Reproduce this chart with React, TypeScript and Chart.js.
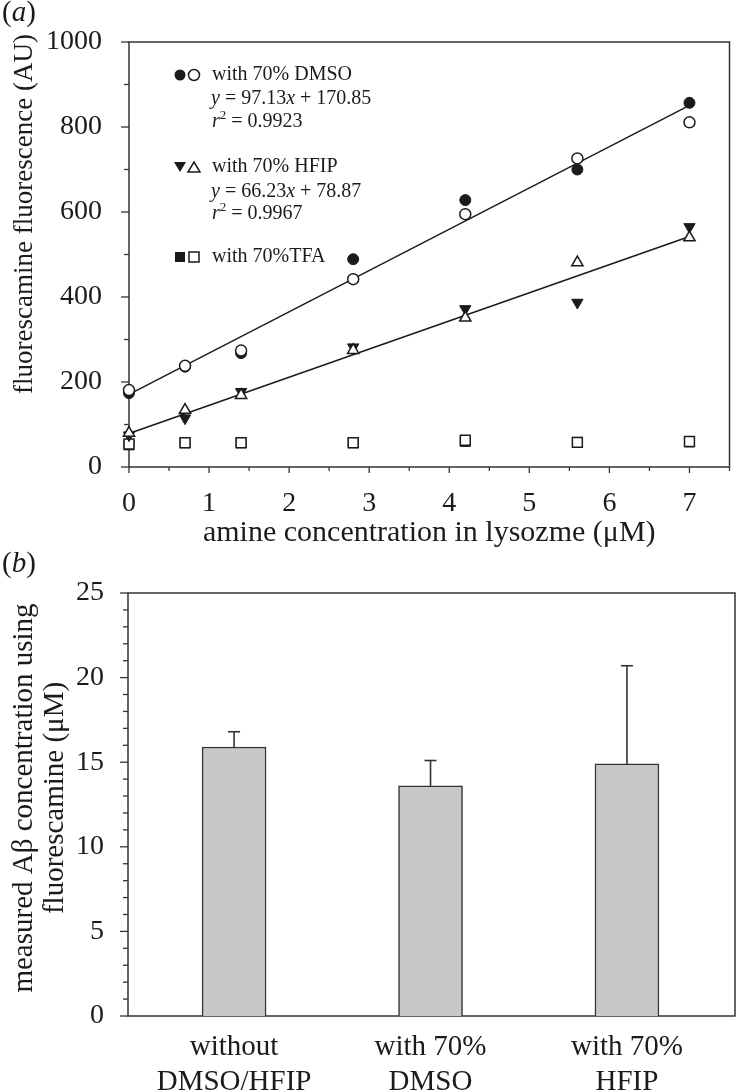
import React, { useEffect, useRef } from 'react';
import { Chart, registerables } from 'chart.js';

Chart.register(...registerables);

// ---------- Panel (a) data ----------
const concentrations = [0, 0.7, 1.4, 2.8, 4.2, 5.6, 7];
const dmsoFilled = [174, 236, 268, 489, 628, 700, 857];
const dmsoOpen = [181, 238, 274, 442, 595, 726, 811];
const hfipFilled = [75, 115, 177, 282, 372, 387, 565];
const hfipOpen = [80, 134, 169, 275, 351, 481, 540];
const tfaFilled = [52, 57, 57, 57, 60, 58, 59];
const tfaOpen = [54, 57, 57, 57, 63, 58, 60];
const fitRangeX = [0, 7];
const dmsoFitY = [170.85, 850.76];
const hfipFitY = [78.87, 542.48];

const aXTickValues = [0, 1, 2, 3, 4, 5, 6, 7];
const aXMinorTicks = [0.5, 1.5, 2.5, 3.5, 4.5, 5.5, 6.5, 7.5];
const aYTickValues = [0, 200, 400, 600, 800, 1000];
const aYMinorTicks = [100, 300, 500, 700, 900];

const legendNames = ['with 70% DMSO', 'with 70% HFIP', 'with 70%TFA'];
const legendEquations = ['y = 97.13x + 170.85', 'y = 66.23x + 78.87'];
const legendR2 = ['0.9923', '0.9967'];

const aXTitle = 'amine concentration in lysozme (\u03bcM)';
const aYTitle = 'fluorescamine fluorescence (AU)';

// ---------- Panel (b) data ----------
const barLabels = [['without', 'DMSO/HFIP'], ['with 70%', 'DMSO'], ['with 70%', 'HFIP']];
const barPositions = [1, 2, 3];
const barValues = [15.9, 13.6, 14.9];
const barErrorTop = [16.8, 15.1, 20.7];
const bYTickValues = [0, 5, 10, 15, 20, 25];
const bYMinorTicks = [1, 2, 3, 4, 6, 7, 8, 9, 11, 12, 13, 14, 16, 17, 18, 19, 21, 22, 23, 24];
const bYTitle = ['measured A\u03b2 concentration using', 'fluorescamine (\u03bcM)'];

const FONT = '"Liberation Serif", "Times New Roman", serif';
const INK = '#1b1b1b';
const AXIS = '#333333';

function strokeLine(ctx: CanvasRenderingContext2D, x1: number, y1: number, x2: number, y2: number) {
  ctx.beginPath();
  ctx.moveTo(x1, y1);
  ctx.lineTo(x2, y2);
  ctx.stroke();
}

type Seg = { text: string; italic?: boolean; size?: number; dy?: number };

function drawRich(ctx: CanvasRenderingContext2D, segs: Seg[], x: number, y: number, baseSize: number) {
  let cx = x;
  ctx.textAlign = 'left';
  ctx.textBaseline = 'alphabetic';
  for (const s of segs) {
    ctx.font = `${s.italic ? 'italic ' : ''}${s.size || baseSize}px ${FONT}`;
    ctx.fillText(s.text, cx, y + (s.dy || 0));
    cx += ctx.measureText(s.text).width;
  }
}

function eqSegments(s: string): Seg[] {
  return s
    .split(/([xy])/)
    .filter((t) => t.length > 0)
    .map((t) => ({ text: t, italic: t === 'x' || t === 'y' }));
}

function axesPlugin(
  id: string,
  xMajor: number[],
  xMinor: number[],
  yMajor: number[],
  yMinor: number[]
) {
  return {
    id,
    beforeDatasetsDraw(chart: any) {
      const { ctx, chartArea: ca } = chart;
      const xs = chart.scales.x;
      const ys = chart.scales.y;
      ctx.save();
      ctx.strokeStyle = AXIS;
      ctx.lineWidth = 1.5;
      ctx.strokeRect(ca.left, ca.top, ca.right - ca.left, ca.bottom - ca.top);
      ctx.lineWidth = 1.3;
      yMajor.forEach((v) => {
        const y = ys.getPixelForValue(v);
        strokeLine(ctx, ca.left - 8, y, ca.left, y);
      });
      yMinor.forEach((v) => {
        const y = ys.getPixelForValue(v);
        strokeLine(ctx, ca.left - 5, y, ca.left, y);
      });
      xMajor.forEach((v) => {
        const x = xs.getPixelForValue(v);
        strokeLine(ctx, x, ca.bottom, x, ca.bottom + 6);
      });
      xMinor.forEach((v) => {
        const x = xs.getPixelForValue(v);
        strokeLine(ctx, x, ca.bottom, x, ca.bottom + 4);
      });
      ctx.restore();
    },
  };
}

function legendMarker(ctx: CanvasRenderingContext2D, kind: string, x: number, y: number, filled: boolean) {
  ctx.beginPath();
  if (kind === 'circle') ctx.arc(x, y, 5.5, 0, Math.PI * 2);
  else if (kind === 'down') {
    ctx.moveTo(x - 6, y - 5);
    ctx.lineTo(x + 6, y - 5);
    ctx.lineTo(x, y + 5);
    ctx.closePath();
  } else if (kind === 'up') {
    ctx.moveTo(x - 6, y + 5);
    ctx.lineTo(x + 6, y + 5);
    ctx.lineTo(x, y - 5);
    ctx.closePath();
  } else ctx.rect(x - 5, y - 5, 10, 10);
  if (filled) {
    ctx.fillStyle = INK;
    ctx.fill();
  } else {
    ctx.fillStyle = '#fff';
    ctx.fill();
    ctx.lineWidth = 1.5;
    ctx.strokeStyle = INK;
    ctx.stroke();
  }
}

const panelAText = {
  id: 'panelAText',
  afterDraw(chart: any) {
    const { ctx, chartArea: ca } = chart;
    ctx.save();
    ctx.fillStyle = INK;
    // panel label
    drawRich(ctx, [{ text: '(' }, { text: 'a', italic: true }, { text: ')' }], 2, 21, 29);
    // x title
    ctx.font = `30px ${FONT}`;
    ctx.textAlign = 'center';
    ctx.textBaseline = 'middle';
    ctx.fillText(aXTitle, (ca.left + ca.right) / 2, 533);
    // y title
    ctx.font = `27px ${FONT}`;
    ctx.save();
    ctx.translate(25, 214);
    ctx.rotate(-Math.PI / 2);
    ctx.fillText(aYTitle, 0, 0);
    ctx.restore();
    // legend
    const kinds: [string, string][] = [
      ['circle', 'circle'],
      ['down', 'up'],
      ['square', 'square'],
    ];
    const nameBase = [80, 172, 262];
    const markY = [75, 167, 257];
    kinds.forEach((k, i) => {
      legendMarker(ctx, k[0], 180, markY[i], true);
      legendMarker(ctx, k[1], 194, markY[i], false);
      ctx.fillStyle = INK;
      drawRich(ctx, [{ text: legendNames[i] }], 212, nameBase[i], 20);
    });
    const eqBase = [104, 197];
    const r2Base = [127, 219];
    legendEquations.forEach((eq, i) => {
      ctx.fillStyle = INK;
      drawRich(ctx, eqSegments(eq), 211, eqBase[i], 20);
      drawRich(
        ctx,
        [{ text: 'r', italic: true }, { text: '2', size: 13, dy: -8 }, { text: ' = ' + legendR2[i] }],
        212,
        r2Base[i],
        20
      );
    });
    ctx.restore();
  },
};

const panelBText = {
  id: 'panelBText',
  afterDraw(chart: any) {
    const { ctx } = chart;
    ctx.save();
    ctx.fillStyle = INK;
    drawRich(ctx, [{ text: '(' }, { text: 'b', italic: true }, { text: ')' }], 2, 23, 29);
    ctx.font = `29px ${FONT}`;
    ctx.textAlign = 'center';
    ctx.textBaseline = 'middle';
    const xs = [24, 55];
    bYTitle.forEach((t, i) => {
      ctx.save();
      ctx.translate(xs[i], 249);
      ctx.rotate(-Math.PI / 2);
      ctx.fillText(t, 0, 0);
      ctx.restore();
    });
    ctx.restore();
  },
};

const errorBars = {
  id: 'errorBars',
  afterDatasetsDraw(chart: any) {
    const { ctx } = chart;
    const xs = chart.scales.x;
    const ys = chart.scales.y;
    ctx.save();
    ctx.strokeStyle = AXIS;
    ctx.lineWidth = 1.6;
    barPositions.forEach((p, i) => {
      const x = xs.getPixelForValue(p);
      const y0 = ys.getPixelForValue(barValues[i]);
      const y1 = ys.getPixelForValue(barErrorTop[i]);
      strokeLine(ctx, x, y0, x, y1);
      strokeLine(ctx, x - 6, y1, x + 6, y1);
    });
    ctx.restore();
  },
};

const tickFont = { family: FONT, size: 28 };

export default function App() {
  const refA = useRef<HTMLCanvasElement>(null);
  const refB = useRef<HTMLCanvasElement>(null);

  useEffect(() => {
    const pts = (ys: number[]) => concentrations.map((x, i) => ({ x, y: ys[i] }));
    const fit = (ys: number[]) => fitRangeX.map((x, i) => ({ x, y: ys[i] }));

    const chartA = new Chart(refA.current as HTMLCanvasElement, {
      type: 'scatter',
      data: {
        datasets: [
          { label: 'DMSO fit', data: fit(dmsoFitY), showLine: true, pointRadius: 0, borderColor: INK, borderWidth: 1.5, order: 5 },
          { label: 'HFIP fit', data: fit(hfipFitY), showLine: true, pointRadius: 0, borderColor: INK, borderWidth: 1.5, order: 5 },
          { label: 'TFA filled', data: pts(tfaFilled), pointStyle: 'rect', pointRadius: 7, backgroundColor: INK, borderColor: INK, borderWidth: 1, order: 4 },
          { label: 'TFA open', data: pts(tfaOpen), pointStyle: 'rect', pointRadius: 7, backgroundColor: '#fff', borderColor: INK, borderWidth: 1.5, order: 3 },
          { label: 'HFIP filled', data: pts(hfipFilled), pointStyle: 'triangle', pointRotation: 180, pointRadius: 6.5, backgroundColor: INK, borderColor: INK, borderWidth: 1, order: 2 },
          { label: 'HFIP open', data: pts(hfipOpen), pointStyle: 'triangle', pointRadius: 6.5, backgroundColor: '#fff', borderColor: INK, borderWidth: 1.5, order: 1 },
          { label: 'DMSO filled', data: pts(dmsoFilled), pointStyle: 'circle', pointRadius: 5.5, backgroundColor: INK, borderColor: INK, borderWidth: 1, order: 2 },
          { label: 'DMSO open', data: pts(dmsoOpen), pointStyle: 'circle', pointRadius: 5.5, backgroundColor: '#fff', borderColor: INK, borderWidth: 1.5, order: 0 },
        ].map((d) => ({ ...d, clip: false as any })),
      },
      options: {
        animation: false,
        responsive: false,
        devicePixelRatio: 1,
        events: [],
        layout: { padding: { top: 42, right: 5, left: 0, bottom: 0 } },
        plugins: { legend: { display: false }, tooltip: { enabled: false } },
        scales: {
          x: {
            type: 'linear',
            min: 0,
            max: 7.5,
            grid: { display: false },
            border: { display: false },
            afterBuildTicks: (s: any) => {
              s.ticks = aXTickValues.map((v) => ({ value: v }));
            },
            afterFit: (s: any) => {
              s.height = 103;
            },
            ticks: {
              font: tickFont,
              color: INK,
              padding: 12,
              maxRotation: 0,
              autoSkip: false,
              callback: (v: any) => String(v),
            },
          },
          y: {
            type: 'linear',
            min: 0,
            max: 1000,
            grid: { display: false },
            border: { display: false },
            afterBuildTicks: (s: any) => {
              s.ticks = aYTickValues.map((v) => ({ value: v }));
            },
            afterFit: (s: any) => {
              s.width = 129;
            },
            ticks: { font: tickFont, color: INK, padding: 19, callback: (v: any) => String(v) },
          },
        },
      } as any,
      plugins: [axesPlugin('axesA', aXTickValues, aXMinorTicks, aYTickValues, aYMinorTicks), panelAText],
    });

    const chartB = new Chart(refB.current as HTMLCanvasElement, {
      type: 'bar',
      data: {
        datasets: [
          {
            label: 'measured A\u03b2',
            data: barPositions.map((x, i) => ({ x, y: barValues[i] })),
            backgroundColor: '#c8c8c8',
            borderColor: AXIS,
            borderWidth: 1.5,
            barThickness: 64,
          },
        ],
      },
      options: {
        animation: false,
        responsive: false,
        devicePixelRatio: 1,
        events: [],
        layout: { padding: { top: 44, right: 3, left: 0, bottom: 0 } },
        plugins: { legend: { display: false }, tooltip: { enabled: false } },
        scales: {
          x: {
            type: 'linear',
            min: 0.46,
            max: 3.55,
            offset: false,
            grid: { display: false, offset: false },
            border: { display: false },
            afterBuildTicks: (s: any) => {
              s.ticks = barPositions.map((v) => ({ value: v }));
            },
            afterFit: (s: any) => {
              s.height = 75;
            },
            ticks: {
              font: { family: FONT, size: 29 },
              color: INK,
              padding: 6,
              maxRotation: 0,
              autoSkip: false,
              callback: (v: any) => barLabels[barPositions.indexOf(Number(v))] || '',
            },
          },
          y: {
            type: 'linear',
            min: 0,
            max: 25,
            grid: { display: false },
            border: { display: false },
            afterBuildTicks: (s: any) => {
              s.ticks = bYTickValues.map((v) => ({ value: v }));
            },
            afterFit: (s: any) => {
              s.width = 128;
            },
            ticks: { font: tickFont, color: INK, padding: 16, callback: (v: any) => String(v) },
          },
        },
      } as any,
      plugins: [axesPlugin('axesB', [], [], bYTickValues, bYMinorTicks), errorBars, panelBText],
    });

    return () => {
      chartA.destroy();
      chartB.destroy();
    };
  }, []);

  return (
    <div style={{ position: 'absolute', left: 0, top: 0, width: 738, height: 1091, background: '#fff' }}>
      <canvas ref={refA} width={738} height={570} style={{ position: 'absolute', left: 0, top: 0 }} />
      <canvas ref={refB} width={738} height={542} style={{ position: 'absolute', left: 0, top: 549 }} />
    </div>
  );
}
